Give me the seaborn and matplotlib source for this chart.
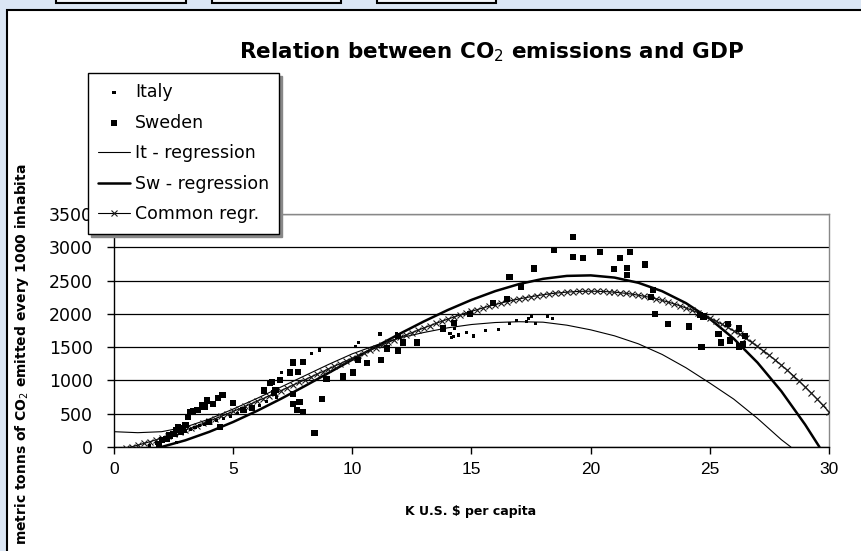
import numpy as np
import matplotlib
matplotlib.use("Agg")
import matplotlib.pyplot as plt
import seaborn as sns
from matplotlib.patches import Rectangle

# ---- data ----
italy_x = [1.5, 1.8, 2.0, 2.2, 2.4, 2.6, 2.63, 2.8, 3.0, 3.2, 3.4, 3.6, 3.8, 4.0, 4.3,
           4.6, 4.9, 5.2, 5.5, 5.8, 6.1, 6.4, 6.8, 7.04, 8.29, 8.64, 10.15, 10.25,
           11.16, 11.86, 14.1, 14.17, 14.24, 14.3, 14.45, 14.8, 15.08, 15.57, 16.13,
           16.6, 16.9, 17.3, 17.4, 17.5, 17.7, 18.2, 18.4]
italy_y = [20, 60, 80, 110, 140, 170, 65, 200, 240, 260, 290, 320, 340, 380, 400,
           430, 460, 500, 540, 580, 620, 680, 740, 1116, 1407, 1457, 1507, 1567,
           1697, 1707, 1707, 1647, 1656, 1780, 1682, 1717, 1667, 1747, 1767,
           1855, 1895, 1880, 1930, 1960, 1855, 1960, 1935]

sweden_x = [1.9, 2.0, 2.2, 2.3, 2.5, 2.6, 2.7, 2.8, 2.9, 3.0, 3.1, 3.2, 3.3, 3.5,
            3.68, 3.8, 3.9, 4.0, 4.17, 4.35, 4.45, 4.55, 5.0, 5.4, 5.8, 6.3, 6.55,
            6.62, 6.7, 6.78, 6.97, 7.39, 7.5, 7.5, 7.52, 7.69, 7.73, 7.78, 7.94, 7.94,
            8.41, 8.74, 8.92, 9.62, 10.04, 10.25, 10.6, 11.19, 11.47, 11.93, 11.93,
            12.14, 12.7, 13.79, 14.27, 14.94, 15.89, 16.48, 16.59, 17.07, 17.62,
            18.46, 19.27, 19.27, 19.69, 20.39, 20.98, 21.23, 21.51, 21.51, 21.65,
            22.28, 22.52, 22.6, 22.7, 23.26, 24.14, 24.59, 24.65, 24.73, 25.36,
            25.47, 25.75, 25.85, 26.24, 26.24, 26.38, 26.49]
sweden_y = [50, 100, 120, 180, 200, 260, 300, 230, 280, 330, 450, 520, 540, 560,
            630, 600, 700, 380, 650, 740, 305, 780, 660, 560, 580, 850, 960,
            980, 810, 860, 1010, 1120, 1270, 640, 800, 560, 1130, 680, 1280, 530,
            215, 720, 1020, 1060, 1120, 1310, 1260, 1310, 1480, 1450, 1670,
            1570, 1570, 1780, 1860, 2000, 2160, 2220, 2550, 2400, 2680,
            2960, 3150, 2860, 2840, 2930, 2670, 2840, 2690, 2580, 2930,
            2740, 2250, 2360, 2000, 1850, 1810, 1980, 1500, 1960, 1700,
            1570, 1850, 1600, 1780, 1510, 1550, 1670]

it_reg_x = [0, 1, 2, 3, 4, 5, 6, 7, 8, 9, 10, 11, 12, 13, 14, 15, 16, 17, 18, 19,
            20, 21, 22, 23, 24, 25, 26, 27, 28, 28.4]
it_reg_y = [230, 215, 230, 300, 420, 570, 730, 900, 1070, 1240, 1400, 1530, 1640,
            1720, 1790, 1840, 1870, 1882, 1875, 1830, 1760, 1670, 1550, 1390, 1190,
            960, 720, 430, 110, 0]

sw_reg_x = [1.5, 2, 3, 4, 5, 6, 7, 8, 9, 10, 11, 12, 13, 14, 15, 16, 17, 18, 19, 20,
            21, 22, 23, 24, 25, 26, 27, 28, 29, 29.6]
sw_reg_y = [-40, 1, 101, 228, 376, 542, 723, 914, 1112, 1312, 1510, 1703, 1886, 2057,
            2210, 2342, 2448, 2526, 2570, 2578, 2545, 2467, 2340, 2161, 1925, 1628,
            1268, 838, 336, 0]

common_x = list(np.arange(0, 30.01, 0.25))
common_y = [-60, -40, -18, 4, 28, 53, 79, 106, 134, 163, 192, 223, 255, 287, 321,
            355, 389, 425, 461, 497, 534, 572, 610, 649, 688, 727, 767, 807, 847,
            887, 928, 969, 1009, 1050, 1091, 1132, 1173, 1214, 1254, 1295, 1335,
            1375, 1415, 1454, 1493, 1532, 1570, 1608, 1645, 1682, 1718, 1753, 1788,
            1822, 1856, 1888, 1920, 1951, 1981, 2010, 2038, 2065, 2091, 2117, 2140,
            2163, 2185, 2205, 2224, 2242, 2258, 2273, 2287, 2299, 2310, 2319, 2326,
            2332, 2337, 2339, 2340, 2339, 2336, 2332, 2325, 2317, 2307, 2295, 2280,
            2264, 2246, 2225, 2202, 2177, 2150, 2120, 2088, 2054, 2018, 1979, 1937,
            1893, 1846, 1797, 1745, 1690, 1633, 1573, 1510, 1445, 1376, 1305, 1230,
            1153, 1073, 989, 903, 813, 720, 624, 525]

y_ticks = [0, 500, 1000, 1500, 2000, 2500, 3000, 3500]
x_ticks = [0, 5, 10, 15, 20, 25, 30]

# ---- figure ----
sns.set_style("white")
plt.rcParams['font.family'] = ['DejaVu Sans']
plt.rcParams['text.color'] = 'black'
plt.rcParams['xtick.color'] = 'black'
plt.rcParams['ytick.color'] = 'black'

W, H = 862, 551
fig = plt.figure(figsize=(W / 100, H / 100), dpi=100, facecolor='#dbe6f4')

# slide-like background: white chart box and the three boxes at the top
fig.patches.append(Rectangle((7 / W, -0.05), 1.05, 1 - 10 / H + 0.05,
                             transform=fig.transFigure, facecolor='white',
                             edgecolor='black', lw=1.5, zorder=-5))
for x0, x1 in [(56, 186), (212, 341), (377, 496)]:
    fig.patches.append(Rectangle((x0 / W, 1 - 3 / H), (x1 - x0) / W, 0.05,
                                 transform=fig.transFigure, facecolor='#f2f5fa',
                                 edgecolor='black', lw=1.5, zorder=-5))

ax = fig.add_axes([114 / W, 1 - 447 / H, (829 - 114) / W, (447 - 214) / H])
ax.set_facecolor('white')

sns.scatterplot(x=italy_x, y=italy_y, ax=ax, marker='s', s=5, color='black',
                edgecolor='none', label='Italy', zorder=4)
sns.scatterplot(x=sweden_x, y=sweden_y, ax=ax, marker='s', s=20, color='black',
                edgecolor='none', label='Sweden', zorder=4)
sns.lineplot(x=it_reg_x, y=it_reg_y, ax=ax, color='black', lw=0.8,
             sort=False, estimator=None, label='It - regression', zorder=3)
sns.lineplot(x=sw_reg_x, y=sw_reg_y, ax=ax, color='black', lw=1.8,
             sort=False, estimator=None, label='Sw - regression', zorder=3)
sns.lineplot(x=common_x, y=common_y, ax=ax, color='black', lw=0.8, marker='x',
             markersize=5, markeredgewidth=0.8, markeredgecolor='#1a1a1a',
             sort=False, estimator=None, label='Common regr.', zorder=3)

ax.set_xlim(0, 30)
ax.set_ylim(0, 3500)
ax.set_xticks(x_ticks)
ax.set_yticks(y_ticks)
ax.yaxis.grid(True, color='black', lw=0.9)
ax.xaxis.grid(False)
ax.set_axisbelow(True)
for side in ['left', 'bottom']:
    ax.spines[side].set_color('black')
    ax.spines[side].set_linewidth(1.0)
for side in ['top', 'right']:
    ax.spines[side].set_color('#888888')
    ax.spines[side].set_linewidth(1.0)
ax.tick_params(axis='y', direction='out', length=5, width=1, pad=10,
               labelsize=12.5, left=True)
ax.tick_params(axis='x', direction='out', length=5, width=1, pad=6,
               labelsize=12.5, bottom=True)
for lab in ax.get_xticklabels():
    lab.set_family('Liberation Sans')
ax.set_xlabel('')
ax.set_ylabel('')

# legend
handles, labels = ax.get_legend_handles_labels()
leg = ax.legend(handles, labels, loc='upper left',
                bbox_to_anchor=(88 / W, 1 - 73 / H), bbox_transform=fig.transFigure,
                borderaxespad=0, fontsize=12.5, frameon=True, fancybox=False,
                framealpha=1, edgecolor='black', handlelength=1.8,
                handletextpad=0.3, labelspacing=0.72, borderpad=0.6,
                shadow={'color': '#888888', 'alpha': 1})
leg.get_frame().set_linewidth(1.0)
leg.set_zorder(10)

# titles
fig.text(491 / W, 1 - 52 / H, 'Relation between CO$_2$ emissions and GDP',
         ha='center', va='center', fontsize=15.5, fontweight='bold', color='black')
fig.text(471 / W, 1 - 511 / H, 'K U.S. $ per capita', ha='center', va='center',
         fontsize=9, fontweight='bold', color='black')

# y label, cut at the top like in the original
lab_ax = fig.add_axes([0, 0, 100 / W, 1 - 165 / H])
lab_ax.set_axis_off()
lab_ax.text(22 / 100, (551 - 545) / (551 - 165),
            'metric tonns of CO$_2$ emitted every 1000 inhabitants',
            transform=lab_ax.transAxes, rotation=90, rotation_mode='anchor',
            ha='left', va='center', fontsize=10, fontweight='bold',
            color='black', clip_on=True)

fig.savefig('out.png', dpi=100, facecolor=fig.get_facecolor())
